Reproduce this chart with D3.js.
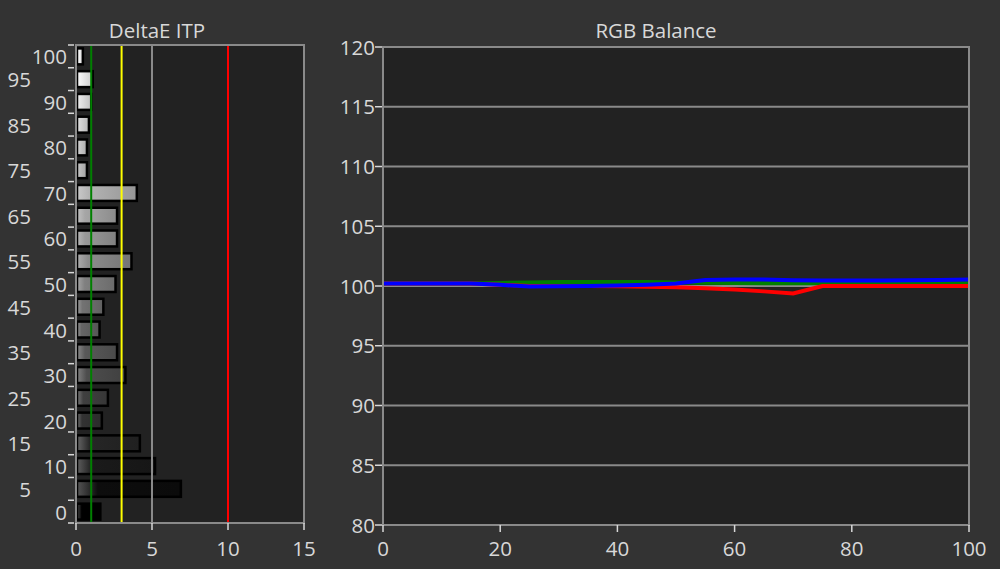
<!DOCTYPE html>
<html>
<head>
<meta charset="utf-8">
<script src="https://cdn.jsdelivr.net/npm/d3@7"></script>
<style>
  body { margin: 0; background: #333333; }
  text { font-family: "Open Sans", "Noto Sans", sans-serif; fill: #d8d8d8; }
</style>
</head>
<body>
<div id="chart"></div>
<script>
// gray levels (stimulus %) and the DeltaE ITP measured at each one
const levels = [0, 5, 10, 15, 20, 25, 30, 35, 40, 45, 50, 55, 60, 65, 70, 75, 80, 85, 90, 95, 100];
const deltaE = [1.6, 6.9, 5.2, 4.2, 1.7, 2.1, 3.25, 2.7, 1.55, 1.8, 2.6, 3.65, 2.7, 2.7, 4.0, 0.72, 0.72, 0.85, 1.0, 1.1, 0.45];
const deTicks = [0, 5, 10, 15];
// reference lines on the DeltaE chart
const refLines = [
    { value: 1, color: "#008000" },
    { value: 3, color: "#ffff00" },
    { value: 5, color: "#8a8a8a" },
    { value: 10, color: "#ff0000" }
];

// RGB balance, % of target per channel
const rgbX = [0, 5, 10, 15, 20, 25, 30, 35, 40, 45, 50, 55, 60, 65, 70, 75, 80, 85, 90, 95, 100];
const redBal = [100.2, 100.2, 100.2, 100.2, 100.1, 100.0, 100.0, 100.0, 99.97, 99.93, 99.9, 99.82, 99.7, 99.55, 99.38, 100.0, 100.0, 100.0, 100.0, 100.0, 100.0];
const greenBal = [100.2, 100.2, 100.2, 100.2, 100.25, 100.3, 100.33, 100.33, 100.33, 100.33, 100.3, 100.28, 100.25, 100.23, 100.22, 100.22, 100.22, 100.22, 100.22, 100.22, 100.22];
const blueBal = [100.2, 100.2, 100.2, 100.2, 100.1, 99.95, 99.97, 100.0, 100.05, 100.1, 100.2, 100.5, 100.55, 100.55, 100.48, 100.45, 100.45, 100.45, 100.48, 100.5, 100.55];
const rgbXTicks = [0, 20, 40, 60, 80, 100];
const rgbYTicks = [80, 85, 90, 95, 100, 105, 110, 115, 120];

const W = 1000, H = 569;
const fontSize = "20.5px";

const svg = d3.select("#chart")
    .append("svg")
    .attr("width", W)
    .attr("height", H);

svg.append("rect").attr("width", W).attr("height", H).attr("fill", "#333333");

const defs = svg.append("defs");

// ---------- DeltaE ITP ----------
const left = { x0: 76, x1: 304, y0: 45, y1: 523 };

const xDE = d3.scaleLinear().domain([0, 15]).range([left.x0, left.x1]);
const yDE = d3.scaleBand()
    .domain(levels.slice().reverse())
    .range([left.y0, left.y1])
    .paddingInner(0.3)
    .paddingOuter(0.15);

svg.append("text")
    .attr("x", 157)
    .attr("y", 38)
    .attr("text-anchor", "middle")
    .style("font-size", "20.5px")
    .text("DeltaE ITP");

svg.append("rect")
    .attr("x", left.x0)
    .attr("y", left.y0)
    .attr("width", left.x1 - left.x0)
    .attr("height", left.y1 - left.y0)
    .attr("fill", "#222222");

// one gradient per gray level: light on the left, base grey, a little darker at the end
levels.forEach((lv) => {
    const g = Math.round(255 * lv / 100);
    const base = d3.rgb(g, g, g);
    const grad = defs.append("linearGradient")
        .attr("id", "bar-" + lv)
        .attr("x1", 0).attr("x2", 1).attr("y1", 0).attr("y2", 0);
    grad.append("stop").attr("offset", 0).attr("stop-color", d3.interpolateRgb(base, "#ffffff")(0.3));
    grad.append("stop").attr("offset", 0.2).attr("stop-color", base);
    grad.append("stop").attr("offset", 1).attr("stop-color", base.darker(0.5));
});

svg.selectAll(".bar")
    .data(levels)
    .enter()
    .append("rect")
    .attr("class", "bar")
    .attr("x", xDE(0) + 1)
    .attr("y", (d) => yDE(d))
    .attr("width", (d, i) => xDE(deltaE[i]) - xDE(0) - 1)
    .attr("height", yDE.bandwidth())
    .attr("fill", (d) => "url(#bar-" + d + ")")
    .attr("stroke", "#000000")
    .attr("stroke-width", 2.5);

// reference lines
svg.selectAll(".ref")
    .data(refLines)
    .enter()
    .append("line")
    .attr("x1", (d) => xDE(d.value))
    .attr("x2", (d) => xDE(d.value))
    .attr("y1", left.y0)
    .attr("y2", left.y1)
    .attr("stroke", (d) => d.color)
    .attr("stroke-width", 2);

svg.append("rect")
    .attr("x", left.x0)
    .attr("y", left.y0)
    .attr("width", left.x1 - left.x0)
    .attr("height", left.y1 - left.y0)
    .attr("fill", "none")
    .attr("stroke", "#8a8a8a")
    .attr("stroke-width", 2);

// y ticks sit on the band edges, labels alternate between two columns
const step = yDE.step();
svg.selectAll(".ytick")
    .data(levels)
    .enter()
    .append("line")
    .attr("x1", left.x0 - 8)
    .attr("x2", left.x0 - 2)
    .attr("y1", (d) => yDE(d) - yDE.paddingInner() * step / 2)
    .attr("y2", (d) => yDE(d) - yDE.paddingInner() * step / 2)
    .attr("stroke", "#d8d8d8")
    .attr("stroke-width", 1.5);

svg.append("line")
    .attr("x1", left.x0 - 8).attr("x2", left.x0 - 2)
    .attr("y1", left.y1).attr("y2", left.y1)
    .attr("stroke", "#d8d8d8").attr("stroke-width", 1.5);

svg.selectAll(".ylab")
    .data(levels)
    .enter()
    .append("text")
    .attr("x", (d) => d % 10 === 0 ? 67 : 31)
    .attr("y", (d) => yDE(d) + yDE.bandwidth() / 2 + 8)
    .attr("text-anchor", "end")
    .style("font-size", fontSize)
    .text((d) => d);

const xAxisDE = svg.append("g")
    .attr("transform", "translate(0," + left.y1 + ")");
xAxisDE.selectAll("line")
    .data(deTicks)
    .enter()
    .append("line")
    .attr("x1", (d) => xDE(d)).attr("x2", (d) => xDE(d))
    .attr("y1", 0).attr("y2", 7)
    .attr("stroke", "#d8d8d8").attr("stroke-width", 1.5);
xAxisDE.selectAll("text")
    .data(deTicks)
    .enter()
    .append("text")
    .attr("x", (d) => xDE(d))
    .attr("y", 33)
    .attr("text-anchor", "middle")
    .style("font-size", fontSize)
    .text((d) => d);

// ---------- RGB Balance ----------
const right = { x0: 383, x1: 969, y0: 47, y1: 525 };

const xRGB = d3.scaleLinear().domain([0, 100]).range([right.x0, right.x1]);
const yRGB = d3.scaleLinear().domain([80, 120]).range([right.y1, right.y0]);

svg.append("text")
    .attr("x", 656)
    .attr("y", 38)
    .attr("text-anchor", "middle")
    .style("font-size", "20.5px")
    .text("RGB Balance");

svg.append("rect")
    .attr("x", right.x0)
    .attr("y", right.y0)
    .attr("width", right.x1 - right.x0)
    .attr("height", right.y1 - right.y0)
    .attr("fill", "#222222");

svg.selectAll(".grid")
    .data(rgbYTicks)
    .enter()
    .append("line")
    .attr("x1", right.x0).attr("x2", right.x1)
    .attr("y1", (d) => yRGB(d)).attr("y2", (d) => yRGB(d))
    .attr("stroke", "#8a8a8a")
    .attr("stroke-width", 2);

const line = d3.line()
    .x((d, i) => xRGB(rgbX[i]))
    .y((d) => yRGB(d));

const series = [
    { values: greenBal, color: "#008000" },
    { values: redBal, color: "#ff0000" },
    { values: blueBal, color: "#0000ff" }
];

svg.selectAll(".bal")
    .data(series)
    .enter()
    .append("path")
    .attr("d", (d) => line(d.values))
    .attr("fill", "none")
    .attr("stroke", (d) => d.color)
    .attr("stroke-width", 4);

svg.append("rect")
    .attr("x", right.x0)
    .attr("y", right.y0)
    .attr("width", right.x1 - right.x0)
    .attr("height", right.y1 - right.y0)
    .attr("fill", "none")
    .attr("stroke", "#8a8a8a")
    .attr("stroke-width", 2);

svg.selectAll(".rytick")
    .data(rgbYTicks)
    .enter()
    .append("line")
    .attr("x1", right.x0 - 8).attr("x2", right.x0 - 1)
    .attr("y1", (d) => yRGB(d)).attr("y2", (d) => yRGB(d))
    .attr("stroke", "#d8d8d8").attr("stroke-width", 1.5);

svg.selectAll(".rylab")
    .data(rgbYTicks)
    .enter()
    .append("text")
    .attr("x", right.x0 - 8)
    .attr("y", (d) => yRGB(d) + 7.5)
    .attr("text-anchor", "end")
    .style("font-size", fontSize)
    .text((d) => d);

svg.selectAll(".rxtick")
    .data(rgbXTicks)
    .enter()
    .append("line")
    .attr("x1", (d) => xRGB(d)).attr("x2", (d) => xRGB(d))
    .attr("y1", right.y1).attr("y2", right.y1 + 7)
    .attr("stroke", "#d8d8d8").attr("stroke-width", 1.5);

svg.selectAll(".rxlab")
    .data(rgbXTicks)
    .enter()
    .append("text")
    .attr("x", (d) => xRGB(d))
    .attr("y", right.y1 + 31)
    .attr("text-anchor", "middle")
    .style("font-size", fontSize)
    .text((d) => d);
</script>
</body>
</html>
